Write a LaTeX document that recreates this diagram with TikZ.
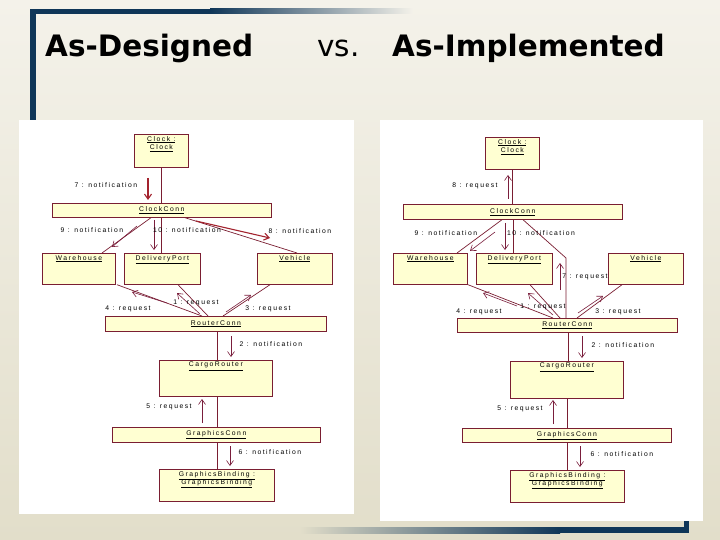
\documentclass[tikz,border=0pt]{standalone}
\usepackage{fontspec}
\setmainfont{Liberation Sans}
\newfontfamily\titlefont{DejaVu Sans}
\newfontfamily\diafont[LetterSpace=22]{Liberation Sans}
\usetikzlibrary{arrows.meta}

\definecolor{bgtop}{HTML}{F4F2EA}
\definecolor{bgbot}{HTML}{E2DECA}
\definecolor{navy}{HTML}{0F3658}
\definecolor{boxfill}{HTML}{FFFFD2}
\definecolor{boxline}{HTML}{7A1E32}
\definecolor{msgcol}{HTML}{7A1E3C}
\definecolor{hicol}{HTML}{A3232E}

\begin{document}
\begin{tikzpicture}[x=1pt,y=-1pt,
  >={Straight Barb[length=5pt,width=7pt]},
  dia/.style={font=\diafont\fontsize{6.8}{8.5}\selectfont},
  obj/.style={dia, draw=boxline, fill=boxfill, line width=0.7pt, anchor=north west, inner sep=1pt},
  objname/.style={dia, anchor=north, inner sep=2pt, align=center},
  link/.style={draw=boxline, line width=0.7pt},
  msg/.style={draw=msgcol, line width=0.6pt, ->},
  hot/.style={draw=hicol, line width=1.1pt, ->},
  lbl/.style={dia, inner sep=0pt},
  ttl/.style={anchor=base west, inner sep=0pt, font=\titlefont\fontsize{29.5}{34}\selectfont}
]
\useasboundingbox (0,0) rectangle (720,540);
\shade[top color=bgtop, bottom color=bgbot] (0,0) rectangle (720,540);

% frame
\fill[navy] (30,9) rectangle (210,14);
\shade[left color=navy, right color=bgtop] (210,9) rectangle (413,14);
\fill[navy] (30,9) rectangle (36,120);
\shade[left color=bgbot, right color=navy] (300,527) rectangle (560,533);
\fill[navy] (560,527) rectangle (689,533);
\fill[navy] (684,515) rectangle (689,533);

% title
\node[ttl] (tdes) at (45,57) {\bfseries As-Designed};
\node[ttl] (tvs) at (317,57) {vs.};
\node[ttl] (timp) at (392,57) {\bfseries As-Implemented};

% panels
\fill[white] (19,120) rectangle (354,514);
\fill[white] (380,120) rectangle (703,521);

%%% as designed
\node[obj, minimum width=54pt, minimum height=33pt, label={[objname]north:{\underline{Clock :}\\\underline{Clock}}}] (clkL) at (134,134) {};
\node[obj, minimum width=219pt, minimum height=14pt] (ccL) at (52,203) {\underline{ClockConn}};
\node[obj, minimum width=73pt, minimum height=31pt, label={[objname]north:{\underline{Warehouse}}}] (whL) at (42,253) {};
\node[obj, minimum width=76pt, minimum height=31pt, label={[objname]north:{\underline{DeliveryPort}}}] (dpL) at (124,253) {};
\node[obj, minimum width=75pt, minimum height=31pt, label={[objname]north:{\underline{Vehicle}}}] (vhL) at (257,253) {};
\node[obj, minimum width=221pt, minimum height=15pt] (rcL) at (105,316) {\underline{RouterConn}};
\node[obj, minimum width=113pt, minimum height=36pt, label={[objname]north:{\underline{CargoRouter}}}] (crL) at (159,360) {};
\node[obj, minimum width=208pt, minimum height=15pt] (gcL) at (112,427) {\underline{GraphicsConn}};
\node[obj, minimum width=115pt, minimum height=32pt, label={[objname]north:{\underline{GraphicsBinding :}\\\underline{GraphicsBinding}}}] (gbL) at (159,469) {};

\draw[link] (clkL.south) -- (clkL.south |- ccL.north);
\draw[link] ([xshift=99pt]ccL.south west) -- ([xshift=60pt]whL.north west);
\draw[link] ([xshift=109pt]ccL.south west) -- ([xshift=37pt]dpL.north west);
\draw[link] ([xshift=133pt]ccL.south west) -- ([xshift=40pt]vhL.north west);
\draw[link] ([xshift=75pt]whL.south west) -- ([xshift=97pt]rcL.north west);
\draw[link] ([xshift=54pt]dpL.south west) -- ([xshift=103pt]rcL.north west);
\draw[link] ([xshift=13pt]vhL.south west) -- ([xshift=118pt]rcL.north west);
\draw[link] ([xshift=112pt]rcL.south west) -- ([xshift=58pt]crL.north west);
\draw[link] ([xshift=58pt]crL.south west) -- ([xshift=105pt]gcL.north west);
\draw[link] ([xshift=105pt]gcL.south west) -- ([xshift=58pt]gbL.north west);

\draw[hot] (148,178) -- (148,200);
\node[lbl] (m7L) at (106,185) {7 : notification};
\draw[msg] (137,226) -- (112,247);
\node[lbl] (m9L) at (92,230) {9 : notification};
\draw[msg] (154,220) -- (154,250);
\node[lbl] (m10L) at (187,230) {10 : notification};
\draw[hot] (196,221) -- (270,238);
\node[lbl] (m8L) at (300,231) {8 : notification};
\draw[msg] (167,303) -- (132,292);
\node[lbl] (m4L) at (128,309) {4 : request};
\draw[msg] (200,314) -- (177,293);
\node[lbl] (m1L) at (196,303) {1 : request};
\draw[msg] (226,312) -- (251,295);
\node[lbl] (m3L) at (268,309) {3 : request};
\draw[msg] (231,336) -- (231,357);
\node[lbl] (m2L) at (271,344) {2 : notification};
\draw[msg] (202,423) -- (202,399);
\node[lbl] (m5L) at (169,407) {5 : request};
\draw[msg] (230,446) -- (230,466);
\node[lbl] (m6L) at (270,452) {6 : notification};

%%% as implemented
\node[obj, minimum width=54pt, minimum height=32pt, label={[objname]north:{\underline{Clock :}\\\underline{Clock}}}] (clkR) at (485,137) {};
\node[obj, minimum width=219pt, minimum height=15pt] (ccR) at (403,204) {\underline{ClockConn}};
\node[obj, minimum width=74pt, minimum height=31pt, label={[objname]north:{\underline{Warehouse}}}] (whR) at (393,253) {};
\node[obj, minimum width=76pt, minimum height=31pt, label={[objname]north:{\underline{DeliveryPort}}}] (dpR) at (476,253) {};
\node[obj, minimum width=75pt, minimum height=31pt, label={[objname]north:{\underline{Vehicle}}}] (vhR) at (608,253) {};
\node[obj, minimum width=220pt, minimum height=14pt] (rcR) at (457,318) {\underline{RouterConn}};
\node[obj, minimum width=113pt, minimum height=37pt, label={[objname]north:{\underline{CargoRouter}}}] (crR) at (510,361) {};
\node[obj, minimum width=209pt, minimum height=14pt] (gcR) at (462,428) {\underline{GraphicsConn}};
\node[obj, minimum width=114pt, minimum height=32pt, label={[objname]north:{\underline{GraphicsBinding :}\\\underline{GraphicsBinding}}}] (gbR) at (510,470) {};
\coordinate (kinkR) at (566,258);

\draw[link] (clkR.south) -- (clkR.south |- ccR.north);
\draw[link] ([xshift=99pt]ccR.south west) -- ([xshift=64pt]whR.north west);
\draw[link] ([xshift=110pt]ccR.south west) -- ([xshift=37pt]dpR.north west);
\draw[link] ([xshift=120pt]ccR.south west) -- (kinkR) -- ([xshift=109pt]rcR.north west);
\draw[link] ([xshift=75pt]whR.south west) -- ([xshift=96pt]rcR.north west);
\draw[link] ([xshift=54pt]dpR.south west) -- ([xshift=103pt]rcR.north west);
\draw[link] ([xshift=14pt]vhR.south west) -- ([xshift=120pt]rcR.north west);
\draw[link] ([xshift=111pt]rcR.south west) -- ([xshift=58pt]crR.north west);
\draw[link] ([xshift=57pt]crR.south west) -- ([xshift=105pt]gcR.north west);
\draw[link] ([xshift=105pt]gcR.south west) -- ([xshift=57pt]gbR.north west);

\draw[msg] (508,199) -- (508,175);
\node[lbl] (m8R) at (475,186) {8 : request};
\draw[msg] (495,232) -- (470,251);
\node[lbl] (m9R) at (446,233) {9 : notification};
\draw[msg] (505,223) -- (505,250);
\node[lbl] (m10R) at (541,233) {10 : notification};
\draw[msg] (560,290) -- (560,263);
\node[lbl] (m7R) at (585,277) {7 : request};
\draw[msg] (517,306) -- (483,293);
\node[lbl] (m4R) at (479,312) {4 : request};
\draw[msg] (553,315) -- (528,293);
\node[lbl] (m1R) at (543,307) {1 : request};
\draw[msg] (578,313) -- (603,296);
\node[lbl] (m3R) at (618,312) {3 : request};
\draw[msg] (582,336) -- (582,358);
\node[lbl] (m2R) at (623,345) {2 : notification};
\draw[msg] (553,424) -- (553,400);
\node[lbl] (m5R) at (520,409) {5 : request};
\draw[msg] (580,446) -- (580,467);
\node[lbl] (m6R) at (622,454) {6 : notification};
\end{tikzpicture}
\end{document}
